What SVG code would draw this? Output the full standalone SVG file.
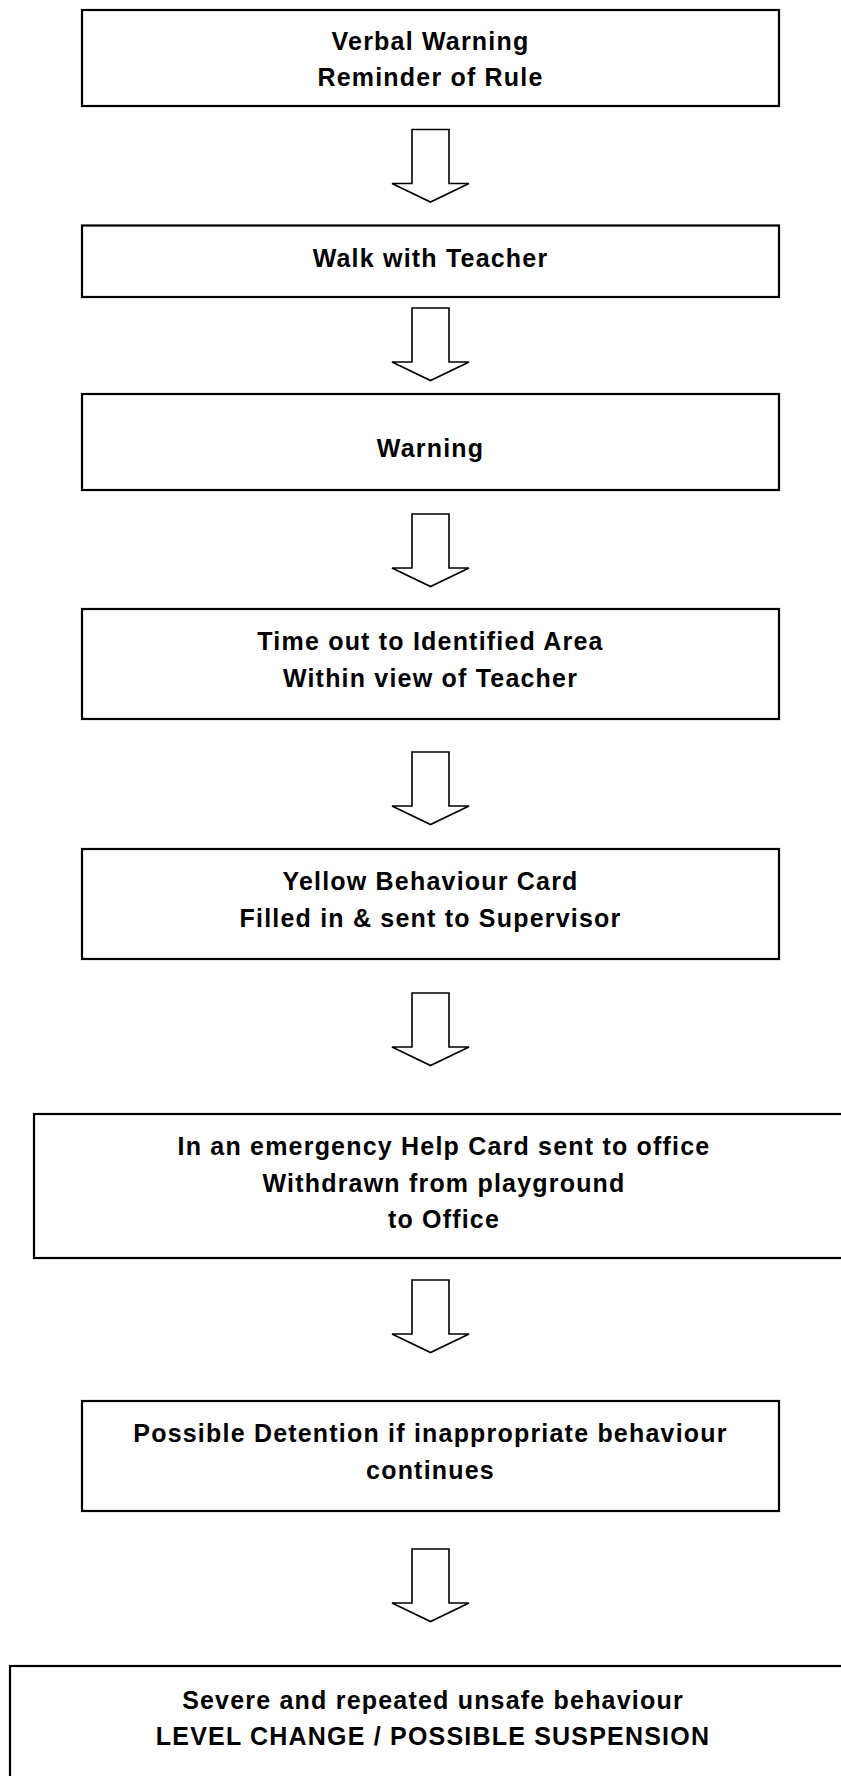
<svg xmlns="http://www.w3.org/2000/svg" width="841" height="1776" viewBox="0 0 841 1776">
<style>
.box{fill:#fff;stroke:#000;stroke-width:2.2}
.arr{fill:#fff;stroke:#000;stroke-width:1.6;stroke-linejoin:miter}
text{font-family:"Liberation Sans",Arial,sans-serif;font-weight:bold;font-size:25px;letter-spacing:1.2px;text-anchor:middle;fill:#000}
</style>
<rect width="841" height="1776" fill="#fff"/>
<g id="connectors">
<path class="arr" d="M412,129.5 V183.5 H392 L430.5,202 L469,183.5 H449 V129.5 Z"/>
<path class="arr" d="M412,308 V362 H392 L430.5,380.5 L469,362 H449 V308 Z"/>
<path class="arr" d="M412,514 V568 H392 L430.5,586.5 L469,568 H449 V514 Z"/>
<path class="arr" d="M412,752 V806 H392 L430.5,824.5 L469,806 H449 V752 Z"/>
<path class="arr" d="M412,993 V1047 H392 L430.5,1065.5 L469,1047 H449 V993 Z"/>
<path class="arr" d="M412,1280 V1334 H392 L430.5,1352.5 L469,1334 H449 V1280 Z"/>
<path class="arr" d="M412,1549 V1603 H392 L430.5,1621.5 L469,1603 H449 V1549 Z"/>
</g>
<g id="n1">
<rect class="box" x="82" y="10" width="697" height="96"/>
<text x="430.5" y="50">Verbal Warning</text>
<text x="430.5" y="86">Reminder of Rule</text>
</g>
<g id="n2">
<rect class="box" x="82" y="225.5" width="697" height="71.5"/>
<text x="430.5" y="266.5">Walk with Teacher</text>
</g>
<g id="n3">
<rect class="box" x="82" y="394" width="697" height="96"/>
<text x="430.5" y="457">Warning</text>
</g>
<g id="n4">
<rect class="box" x="82" y="609" width="697" height="110"/>
<text x="430.5" y="650">Time out to Identified Area</text>
<text x="430.5" y="686.5">Within view of Teacher</text>
</g>
<g id="n5">
<rect class="box" x="82" y="849" width="697" height="110"/>
<text x="430.5" y="890">Yellow Behaviour Card</text>
<text x="430.5" y="926.5">Filled in &amp; sent to Supervisor</text>
</g>
<g id="n6">
<rect class="box" x="34" y="1114" width="830" height="144"/>
<text x="444" y="1155">In an emergency Help Card sent to office</text>
<text x="444" y="1191.5">Withdrawn from playground</text>
<text x="444" y="1228">to Office</text>
</g>
<g id="n7">
<rect class="box" x="82" y="1401" width="697" height="110"/>
<text x="430.5" y="1442">Possible Detention if inappropriate behaviour</text>
<text x="430.5" y="1478.5">continues</text>
</g>
<g id="n8">
<rect class="box" x="10" y="1666" width="860" height="140"/>
<text x="433" y="1709">Severe and repeated unsafe behaviour</text>
<text x="433" y="1745">LEVEL CHANGE / POSSIBLE SUSPENSION</text>
</g>
</svg>
